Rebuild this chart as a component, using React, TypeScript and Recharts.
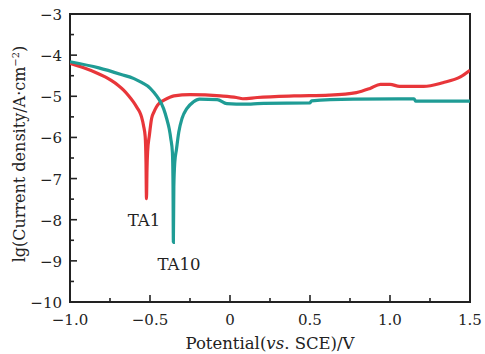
import React from 'react';
import { LineChart, Line, XAxis, YAxis, ReferenceArea, ReferenceDot } from 'recharts';

const ta1X = [-1.0, -0.906, -0.84, -0.78, -0.74, -0.7, -0.665, -0.635, -0.605, -0.58, -0.565, -0.553, -0.54, -0.53, -0.525, -0.522, -0.519, -0.515, -0.504, -0.49, -0.475, -0.46, -0.44, -0.415, -0.35, -0.25, -0.06, 0.04, 0.08, 0.17, 0.4, 0.62, 0.79, 0.875, 0.94, 1.0, 1.06, 1.21, 1.33, 1.44, 1.5];
const ta1Y = [-4.2, -4.32, -4.42, -4.53, -4.62, -4.73, -4.85, -4.98, -5.13, -5.28, -5.38, -5.5, -5.72, -5.98, -6.6, -7.49, -6.8, -6.35, -5.95, -5.54, -5.38, -5.26, -5.16, -5.1, -4.99, -4.96, -4.99, -5.03, -5.06, -5.03, -4.99, -4.97, -4.91, -4.81, -4.71, -4.71, -4.76, -4.76, -4.67, -4.53, -4.37];

const ta10X = [-1.0, -0.82, -0.68, -0.6, -0.55, -0.5, -0.475, -0.448, -0.415, -0.396, -0.38, -0.37, -0.36, -0.356, -0.354, -0.351, -0.345, -0.335, -0.32, -0.3, -0.27, -0.23, -0.19, -0.08, -0.02, 0.04, 0.13, 0.21, 0.5, 0.51, 0.77, 1.15, 1.16, 1.5];
const ta10Y = [-4.16, -4.31, -4.47, -4.57, -4.67, -4.8, -4.91, -5.05, -5.3, -5.54, -5.79, -6.03, -6.36, -7.2, -8.55, -7.2, -6.6, -6.3, -5.87, -5.54, -5.3, -5.14, -5.07, -5.08, -5.18, -5.19, -5.19, -5.17, -5.16, -5.11, -5.07, -5.06, -5.12, -5.12];

const xTicks = [-1.0, -0.75, -0.5, -0.25, 0, 0.25, 0.5, 0.75, 1.0, 1.25, 1.5];
const yTicks = [-10, -9.5, -9, -8.5, -8, -7.5, -7, -6.5, -6, -5.5, -5, -4.5, -4, -3.5, -3];

const ta1Data = ta1X.map((x, i) => ({ x, y: ta1Y[i] }));
const ta10Data = ta10X.map((x, i) => ({ x, y: ta10Y[i] }));

const FONT = '"DejaVu Serif", serif';
const INK = '#222';
const FS = 15;

const fmtX = (v: number) => (Math.abs(v) < 1e-9 ? '0' : (v < 0 ? '\u2212' : '') + Math.abs(v).toFixed(1));
const fmtY = (v: number) => (v < 0 ? '\u2212' : '') + Math.abs(v).toFixed(0);

const XTick = (props: any) => {
  const { x, y, payload } = props;
  const v = payload.value;
  const major = Math.abs(v * 2 - Math.round(v * 2)) < 1e-6;
  return (
    <g>
      <line x1={x} x2={x} y1={y} y2={y - (major ? 7 : 4)} stroke={INK} strokeWidth={1.6} />
      {major && (
        <text x={x} y={y + 23} textAnchor="middle" fontFamily={FONT} fontSize={FS} fill={INK}>
          {fmtX(v)}
        </text>
      )}
    </g>
  );
};

const YTick = (props: any) => {
  const { x, y, payload } = props;
  const v = payload.value;
  const major = Math.abs(v - Math.round(v)) < 1e-6;
  return (
    <g>
      <line x1={x} x2={x + (major ? 7 : 4)} y1={y} y2={y} stroke={INK} strokeWidth={1.6} />
      {major && (
        <text x={x - 8} y={y + 6} textAnchor="end" fontFamily={FONT} fontSize={FS} fill={INK}>
          {fmtY(v)}
        </text>
      )}
    </g>
  );
};

export default function App() {
  return (
    <div style={{ position: 'absolute', left: 0, top: 0, width: 485, height: 354, background: '#fff' }}>
      <LineChart width={485} height={354} data={ta1Data} margin={{ top: 14, right: 15, bottom: 0, left: 0 }}>
        <XAxis
          dataKey="x"
          type="number"
          domain={[-1, 1.5]}
          ticks={xTicks}
          interval={0}
          allowDataOverflow
          axisLine={false}
          tickLine={false}
          tickSize={0}
          tickMargin={0}
          height={52}
          tick={<XTick />}
        />
        <YAxis
          dataKey="y"
          type="number"
          domain={[-10, -3]}
          ticks={yTicks}
          interval={0}
          allowDataOverflow
          axisLine={false}
          tickLine={false}
          tickSize={0}
          tickMargin={0}
          width={70}
          tick={<YTick />}
        />
        <ReferenceArea x1={-1} x2={1.5} y1={-10} y2={-3} fill="none" stroke={INK} strokeWidth={2} />
        <Line data={ta1Data} dataKey="y" type="monotone" stroke="#e8363a" strokeWidth={3.2} dot={false} isAnimationActive={false} strokeLinejoin="miter" strokeMiterlimit={2} />
        <Line data={ta10Data} dataKey="y" type="monotone" stroke="#1f9c95" strokeWidth={3.2} dot={false} isAnimationActive={false} strokeLinejoin="miter" strokeMiterlimit={2} />
        <ReferenceDot x={-0.5375} y={-8.0} r={0} fill="none" stroke="none"
          label={{ value: 'TA1', position: 'center', fontFamily: FONT, fontSize: 16.5, fill: INK }} />
        <ReferenceDot x={-0.319} y={-9.07} r={0} fill="none" stroke="none"
          label={{ value: 'TA10', position: 'center', fontFamily: FONT, fontSize: 16.5, fill: INK }} />
      </LineChart>
      <svg width={485} height={354} style={{ position: 'absolute', left: 0, top: 0, pointerEvents: 'none' }}>
        <text x={270} y={349} textAnchor="middle" fontFamily={FONT} fontSize={16.5} fill={INK}>
          Potential(<tspan fontStyle="italic">vs</tspan>. SCE)/V
        </text>
        <text transform="translate(25,154) rotate(-90)" textAnchor="middle" fontFamily={FONT} fontSize={16} fill={INK}>
          lg(Current density/A·cm<tspan dy={-6} fontSize={10}>−2</tspan><tspan dy={6}>)</tspan>
        </text>
      </svg>
    </div>
  );
}
